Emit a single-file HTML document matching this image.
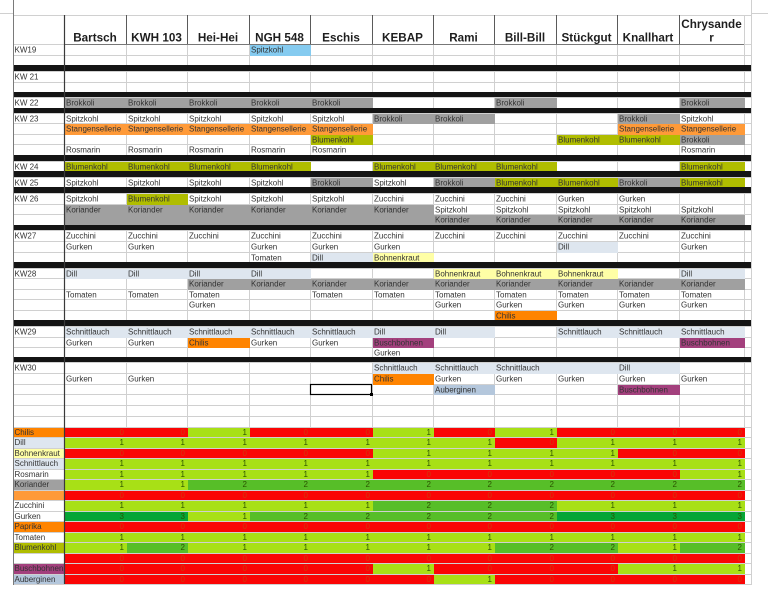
<!DOCTYPE html>
<html><head><meta charset="utf-8">
<style>
html,body{margin:0;padding:0;background:#fff;width:768px;height:599px;overflow:hidden}
svg{display:block}
text{font-family:"Liberation Sans",Arial,sans-serif}
.t{font-size:8px;fill:#333}
.h{font-size:11.7px;font-weight:bold;fill:#1e1e1e;text-anchor:middle}
.r{font-size:8px;fill:#cf3a0c}
.g{font-size:8px;fill:#2c5400}
</style></head>
<body>
<svg width="768" height="599" viewBox="0 0 768 599" xmlns="http://www.w3.org/2000/svg">
<rect x="0" y="0" width="768" height="599" fill="#fff"/>

<!-- light gridlines -->
<path fill="none" stroke="#d0d0d0" stroke-width="1" d="
M0 13.5H13 M751 13.5H768
M13 15.5H751 M13 44.5H751 M13 55.5H751 M13 65.5H751 M13 71.5H751 M13 82.5H751 M13 92.5H751 M13 97.5H751
M13 108.5H751 M13 113.5H751 M13 123.5H751 M13 134.5H751 M13 144.5H751 M13 155.5H751 M13 161.5H751 M13 171.5H751
M13 177.5H751 M13 187.5H751 M13 193.5H751 M13 204.5H751 M13 214.5H751 M13 225.5H751 M13 230.5H751 M13 241.5H751
M13 252.5H751 M13 262.5H751 M13 268.5H751 M13 278.5H751 M13 289.5H751 M13 299.5H751 M13 310.5H751 M13 320.5H751
M13 326.5H751 M13 337.5H751 M13 347.5H751 M13 357.5H751 M13 362.5H751 M13 373.5H751 M13 384.5H751 M13 394.5H751
M13 405.5H751 M13 416.5H751 M13 427.5H751 M13 437.5H751 M13 448.5H751 M13 458.5H751 M13 469.5H751 M13 479.5H751
M13 490.5H751 M13 500.5H751 M13 511.5H751 M13 521.5H751 M13 532.5H751 M13 542.5H751 M13 553.5H751 M13 563.5H751
M13 574.5H751 M13 584.5H751
M126.5 44V584 M187.5 44V584 M249.5 44V584 M310.5 44V584 M372.5 44V584 M433.5 44V584 M494.5 44V584
M556.5 44V584 M617.5 44V584 M679.5 44V584 M744.5 15V584 M751.5 0V585"/>

<!-- header dark verticals -->
<path fill="none" stroke="#5a5a5a" stroke-width="1" d="M126.5 15V44 M187.5 15V44 M249.5 15V44 M310.5 15V44 M372.5 15V44 M433.5 15V44 M494.5 15V44 M556.5 15V44 M617.5 15V44 M679.5 15V44"/>
<path fill="none" stroke="#777" stroke-width="1" d="M64 44.5H744"/>

<!-- coloured cells (top) -->
<g>
<rect x="250" y="45" width="61" height="11" fill="#85cbf0"/>
<rect x="65" y="98" width="308" height="11" fill="#a0a0a0"/>
<rect x="495" y="98" width="62" height="11" fill="#a0a0a0"/>
<rect x="680" y="98" width="65" height="11" fill="#a0a0a0"/>
<rect x="373" y="114" width="122" height="10" fill="#a0a0a0"/>
<rect x="618" y="114" width="62" height="10" fill="#a0a0a0"/>
<rect x="65" y="124" width="308" height="11" fill="#ff9a38"/>
<rect x="618" y="124" width="127" height="11" fill="#ff9a38"/>
<rect x="311" y="135" width="62" height="10" fill="#b0bd00"/>
<rect x="557" y="135" width="123" height="10" fill="#b0bd00"/>
<rect x="680" y="135" width="65" height="10" fill="#a0a0a0"/>
<rect x="65" y="162" width="246" height="10" fill="#b0bd00"/>
<rect x="373" y="162" width="184" height="10" fill="#b0bd00"/>
<rect x="680" y="162" width="65" height="10" fill="#b0bd00"/>
<rect x="311" y="178" width="62" height="10" fill="#a0a0a0"/>
<rect x="434" y="178" width="61" height="10" fill="#a0a0a0"/>
<rect x="495" y="178" width="123" height="10" fill="#b0bd00"/>
<rect x="618" y="178" width="62" height="10" fill="#a0a0a0"/>
<rect x="680" y="178" width="65" height="10" fill="#b0bd00"/>
<rect x="127" y="194" width="61" height="11" fill="#b0bd00"/>
<rect x="65" y="205" width="369" height="21" fill="#a0a0a0"/>
<rect x="434" y="215" width="311" height="11" fill="#a0a0a0"/>
<rect x="557" y="242" width="61" height="11" fill="#dee6ef"/>
<rect x="311" y="253" width="62" height="10" fill="#dee6ef"/>
<rect x="373" y="253" width="61" height="10" fill="#ffffa6"/>
<rect x="65" y="269" width="246" height="10" fill="#dee6ef"/>
<rect x="434" y="269" width="184" height="10" fill="#ffffa6"/>
<rect x="680" y="269" width="65" height="10" fill="#dee6ef"/>
<rect x="188" y="279" width="557" height="11" fill="#a0a0a0"/>
<rect x="495" y="311" width="62" height="10" fill="#ff8400"/>
<rect x="65" y="327" width="430" height="11" fill="#dee6ef"/>
<rect x="557" y="327" width="188" height="11" fill="#dee6ef"/>
<rect x="188" y="338" width="62" height="10" fill="#ff8400"/>
<rect x="373" y="338" width="61" height="10" fill="#a3407d"/>
<rect x="680" y="338" width="65" height="10" fill="#a3407d"/>
<rect x="373" y="363" width="307" height="11" fill="#dee6ef"/>
<rect x="373" y="374" width="61" height="11" fill="#ff8400"/>
<rect x="434" y="385" width="61" height="10" fill="#b4c7dc"/>
<rect x="618" y="385" width="62" height="10" fill="#a3407d"/>
</g>

<!-- black separator bands -->
<g fill="#141414">
<rect x="13" y="65" width="738" height="6"/>
<rect x="13" y="92" width="738" height="5"/>
<rect x="13" y="108" width="738" height="5"/>
<rect x="13" y="155" width="738" height="6"/>
<rect x="13" y="171" width="738" height="6"/>
<rect x="13" y="187" width="738" height="6"/>
<rect x="13" y="225" width="738" height="5"/>
<rect x="13" y="262" width="738" height="6"/>
<rect x="13" y="320" width="738" height="6"/>
<rect x="13" y="357" width="738" height="5"/>
</g>

<!-- lower section label backgrounds -->
<g>
<rect x="14" y="428" width="50" height="9" fill="#ff8400"/>
<rect x="14" y="438" width="50" height="10" fill="#dee6ef"/>
<rect x="14" y="449" width="50" height="9" fill="#ffffa6"/>
<rect x="14" y="459" width="50" height="10" fill="#dee6ef"/>
<rect x="14" y="480" width="50" height="10" fill="#a0a0a0"/>
<rect x="14" y="491" width="50" height="9" fill="#ff9a38"/>
<rect x="14" y="522" width="50" height="10" fill="#ff8400"/>
<rect x="14" y="543" width="50" height="10" fill="#b0bd00"/>
<rect x="14" y="564" width="50" height="10" fill="#a3407d"/>
<rect x="14" y="575" width="50" height="9" fill="#b4c7dc"/>
</g>

<!-- lower section value cells -->
<g>
<!-- row0 Chilis -->
<rect x="65" y="428" width="123" height="9" fill="#fa0505"/>
<rect x="188" y="428" width="62" height="9" fill="#a8e016"/>
<rect x="250" y="428" width="123" height="9" fill="#fa0505"/>
<rect x="373" y="428" width="61" height="9" fill="#a8e016"/>
<rect x="434" y="428" width="61" height="9" fill="#fa0505"/>
<rect x="495" y="428" width="62" height="9" fill="#a8e016"/>
<rect x="557" y="428" width="188" height="9" fill="#fa0505"/>
<!-- row1 Dill -->
<rect x="65" y="438" width="430" height="10" fill="#a8e016"/>
<rect x="495" y="438" width="62" height="10" fill="#fa0505"/>
<rect x="557" y="438" width="188" height="10" fill="#a8e016"/>
<!-- row2 Bohnenkraut -->
<rect x="65" y="449" width="308" height="9" fill="#fa0505"/>
<rect x="373" y="449" width="245" height="9" fill="#a8e016"/>
<rect x="618" y="449" width="127" height="9" fill="#fa0505"/>
<!-- row3 Schnittlauch -->
<rect x="65" y="459" width="680" height="10" fill="#a8e016"/>
<!-- row4 Rosmarin -->
<rect x="65" y="470" width="308" height="9" fill="#a8e016"/>
<rect x="373" y="470" width="307" height="9" fill="#fa0505"/>
<rect x="680" y="470" width="65" height="9" fill="#a8e016"/>
<!-- row5 Koriander -->
<rect x="65" y="480" width="123" height="10" fill="#a8e016"/>
<rect x="188" y="480" width="557" height="10" fill="#57be28"/>
<!-- row6 blank -->
<rect x="65" y="491" width="680" height="9" fill="#fa0505"/>
<!-- row7 Zucchini -->
<rect x="65" y="501" width="308" height="10" fill="#a8e016"/>
<rect x="373" y="501" width="184" height="10" fill="#57be28"/>
<rect x="557" y="501" width="188" height="10" fill="#a8e016"/>
<!-- row8 Gurken -->
<rect x="65" y="512" width="123" height="9" fill="#06a536"/>
<rect x="188" y="512" width="62" height="9" fill="#a8e016"/>
<rect x="250" y="512" width="307" height="9" fill="#57be28"/>
<rect x="557" y="512" width="188" height="9" fill="#06a536"/>
<!-- row9 Paprika -->
<rect x="65" y="522" width="680" height="10" fill="#fa0505"/>
<!-- row10 Tomaten -->
<rect x="65" y="533" width="680" height="9" fill="#a8e016"/>
<!-- row11 Blumenkohl -->
<rect x="65" y="543" width="62" height="10" fill="#a8e016"/>
<rect x="127" y="543" width="61" height="10" fill="#57be28"/>
<rect x="188" y="543" width="307" height="10" fill="#a8e016"/>
<rect x="495" y="543" width="123" height="10" fill="#57be28"/>
<rect x="618" y="543" width="62" height="10" fill="#a8e016"/>
<rect x="680" y="543" width="65" height="10" fill="#57be28"/>
<!-- row12 blank -->
<rect x="65" y="554" width="680" height="9" fill="#fa0505"/>
<!-- row13 Buschbohnen -->
<rect x="65" y="564" width="308" height="10" fill="#fa0505"/>
<rect x="373" y="564" width="61" height="10" fill="#a8e016"/>
<rect x="434" y="564" width="184" height="10" fill="#fa0505"/>
<rect x="618" y="564" width="127" height="10" fill="#a8e016"/>
<!-- row14 Auberginen -->
<rect x="65" y="575" width="369" height="9" fill="#fa0505"/>
<rect x="434" y="575" width="61" height="9" fill="#a8e016"/>
<rect x="495" y="575" width="250" height="9" fill="#fa0505"/>
</g>

<!-- dark borders -->
<path fill="none" stroke="#7a7a7a" stroke-width="1" d="M13.5 0V585"/>
<path fill="none" stroke="#3a3a3a" stroke-width="1.2" d="M64.5 15V584"/>

<!-- selection box -->
<rect x="310.5" y="384.5" width="61" height="10" fill="none" stroke="#000" stroke-width="1.2"/>
<rect x="370" y="393" width="3" height="3" fill="#000"/>

<!-- header -->
<g class="h">
<text x="95" y="41.5">Bartsch</text>
<text x="156.5" y="41.5">KWH 103</text>
<text x="218" y="41.5">Hei-Hei</text>
<text x="279.5" y="41.5">NGH 548</text>
<text x="341" y="41.5">Eschis</text>
<text x="402.5" y="41.5">KEBAP</text>
<text x="463.5" y="41.5">Rami</text>
<text x="525" y="41.5">Bill-Bill</text>
<text x="586.5" y="41.5">Stückgut</text>
<text x="648" y="41.5">Knallhart</text>
<text x="711.5" y="28">Chrysande</text>
<text x="711.5" y="41.5">r</text>
</g>

<!-- week labels -->
<g class="t">
<text x="14.5" y="52.5">KW19</text>
<text x="14.5" y="79.5">KW 21</text>
<text x="14.5" y="105.5">KW 22</text>
<text x="14.5" y="121.5">KW 23</text>
<text x="14.5" y="169.5">KW 24</text>
<text x="14.5" y="185.5">KW 25</text>
<text x="14.5" y="201.5">KW 26</text>
<text x="14.5" y="238.5">KW27</text>
<text x="14.5" y="276.5">KW28</text>
<text x="14.5" y="334.5">KW29</text>
<text x="14.5" y="370.5">KW30</text>

<!-- KW19 -->
<text x="251" y="52.5">Spitzkohl</text>
<!-- KW22 -->
<text x="66" y="105.5">Brokkoli</text><text x="128" y="105.5">Brokkoli</text><text x="189" y="105.5">Brokkoli</text><text x="251" y="105.5">Brokkoli</text><text x="312" y="105.5">Brokkoli</text><text x="496" y="105.5">Brokkoli</text><text x="681" y="105.5">Brokkoli</text>
<!-- KW23 -->
<text x="66" y="121.5">Spitzkohl</text><text x="128" y="121.5">Spitzkohl</text><text x="189" y="121.5">Spitzkohl</text><text x="251" y="121.5">Spitzkohl</text><text x="312" y="121.5">Spitzkohl</text><text x="374" y="121.5">Brokkoli</text><text x="435" y="121.5">Brokkoli</text><text x="619" y="121.5">Brokkoli</text><text x="681" y="121.5">Spitzkohl</text>
<text x="66" y="131.5">Stangensellerie</text><text x="128" y="131.5">Stangensellerie</text><text x="189" y="131.5">Stangensellerie</text><text x="251" y="131.5">Stangensellerie</text><text x="312" y="131.5">Stangensellerie</text><text x="619" y="131.5">Stangensellerie</text><text x="681" y="131.5">Stangensellerie</text>
<text x="312" y="142.5">Blumenkohl</text><text x="558" y="142.5">Blumenkohl</text><text x="619" y="142.5">Blumenkohl</text><text x="681" y="142.5">Brokkoli</text>
<text x="66" y="152.5">Rosmarin</text><text x="128" y="152.5">Rosmarin</text><text x="189" y="152.5">Rosmarin</text><text x="251" y="152.5">Rosmarin</text><text x="312" y="152.5">Rosmarin</text><text x="681" y="152.5">Rosmarin</text>
<!-- KW24 -->
<text x="66" y="169.5">Blumenkohl</text><text x="128" y="169.5">Blumenkohl</text><text x="189" y="169.5">Blumenkohl</text><text x="251" y="169.5">Blumenkohl</text><text x="374" y="169.5">Blumenkohl</text><text x="435" y="169.5">Blumenkohl</text><text x="496" y="169.5">Blumenkohl</text><text x="681" y="169.5">Blumenkohl</text>
<!-- KW25 -->
<text x="66" y="185.5">Spitzkohl</text><text x="128" y="185.5">Spitzkohl</text><text x="189" y="185.5">Spitzkohl</text><text x="251" y="185.5">Spitzkohl</text><text x="312" y="185.5">Brokkoli</text><text x="374" y="185.5">Spitzkohl</text><text x="435" y="185.5">Brokkoli</text><text x="496" y="185.5">Blumenkohl</text><text x="558" y="185.5">Blumenkohl</text><text x="619" y="185.5">Brokkoli</text><text x="681" y="185.5">Blumenkohl</text>
<!-- KW26 -->
<text x="66" y="201.5">Spitzkohl</text><text x="128" y="201.5">Blumenkohl</text><text x="189" y="201.5">Spitzkohl</text><text x="251" y="201.5">Spitzkohl</text><text x="312" y="201.5">Spitzkohl</text><text x="374" y="201.5">Zucchini</text><text x="435" y="201.5">Zucchini</text><text x="496" y="201.5">Zucchini</text><text x="558" y="201.5">Gurken</text><text x="619" y="201.5">Gurken</text>
<text x="66" y="212.5">Koriander</text><text x="128" y="212.5">Koriander</text><text x="189" y="212.5">Koriander</text><text x="251" y="212.5">Koriander</text><text x="312" y="212.5">Koriander</text><text x="374" y="212.5">Koriander</text><text x="435" y="212.5">Spitzkohl</text><text x="496" y="212.5">Spitzkohl</text><text x="558" y="212.5">Spitzkohl</text><text x="619" y="212.5">Spitzkohl</text><text x="681" y="212.5">Spitzkohl</text>
<text x="435" y="222.5">Koriander</text><text x="496" y="222.5">Koriander</text><text x="558" y="222.5">Koriander</text><text x="619" y="222.5">Koriander</text><text x="681" y="222.5">Koriander</text>
<!-- KW27 -->
<text x="66" y="238.5">Zucchini</text><text x="128" y="238.5">Zucchini</text><text x="189" y="238.5">Zucchini</text><text x="251" y="238.5">Zucchini</text><text x="312" y="238.5">Zucchini</text><text x="374" y="238.5">Zucchini</text><text x="435" y="238.5">Zucchini</text><text x="496" y="238.5">Zucchini</text><text x="558" y="238.5">Zucchini</text><text x="619" y="238.5">Zucchini</text><text x="681" y="238.5">Zucchini</text>
<text x="66" y="249.5">Gurken</text><text x="128" y="249.5">Gurken</text><text x="251" y="249.5">Gurken</text><text x="312" y="249.5">Gurken</text><text x="374" y="249.5">Gurken</text><text x="558" y="249.5">Dill</text><text x="681" y="249.5">Gurken</text>
<text x="251" y="260.5">Tomaten</text><text x="312" y="260.5">Dill</text><text x="374" y="260.5">Bohnenkraut</text>
<!-- KW28 -->
<text x="66" y="276.5">Dill</text><text x="128" y="276.5">Dill</text><text x="189" y="276.5">Dill</text><text x="251" y="276.5">Dill</text><text x="435" y="276.5">Bohnenkraut</text><text x="496" y="276.5">Bohnenkraut</text><text x="558" y="276.5">Bohnenkraut</text><text x="681" y="276.5">Dill</text>
<text x="189" y="286.5">Koriander</text><text x="251" y="286.5">Koriander</text><text x="312" y="286.5">Koriander</text><text x="374" y="286.5">Koriander</text><text x="435" y="286.5">Koriander</text><text x="496" y="286.5">Koriander</text><text x="558" y="286.5">Koriander</text><text x="619" y="286.5">Koriander</text><text x="681" y="286.5">Koriander</text>
<text x="66" y="297.5">Tomaten</text><text x="128" y="297.5">Tomaten</text><text x="189" y="297.5">Tomaten</text><text x="312" y="297.5">Tomaten</text><text x="374" y="297.5">Tomaten</text><text x="435" y="297.5">Tomaten</text><text x="496" y="297.5">Tomaten</text><text x="558" y="297.5">Tomaten</text><text x="619" y="297.5">Tomaten</text><text x="681" y="297.5">Tomaten</text>
<text x="189" y="307.5">Gurken</text><text x="435" y="307.5">Gurken</text><text x="496" y="307.5">Gurken</text><text x="558" y="307.5">Gurken</text><text x="619" y="307.5">Gurken</text><text x="681" y="307.5">Gurken</text>
<text x="496" y="318.5">Chilis</text>
<!-- KW29 -->
<text x="66" y="334.5">Schnittlauch</text><text x="128" y="334.5">Schnittlauch</text><text x="189" y="334.5">Schnittlauch</text><text x="251" y="334.5">Schnittlauch</text><text x="312" y="334.5">Schnittlauch</text><text x="374" y="334.5">Dill</text><text x="435" y="334.5">Dill</text><text x="558" y="334.5">Schnittlauch</text><text x="619" y="334.5">Schnittlauch</text><text x="681" y="334.5">Schnittlauch</text>
<text x="66" y="345.5">Gurken</text><text x="128" y="345.5">Gurken</text><text x="189" y="345.5">Chilis</text><text x="251" y="345.5">Gurken</text><text x="312" y="345.5">Gurken</text><text x="374" y="345.5">Buschbohnen</text><text x="681" y="345.5">Buschbohnen</text>
<text x="374" y="355.5">Gurken</text>
<!-- KW30 -->
<text x="374" y="370.5">Schnittlauch</text><text x="435" y="370.5">Schnittlauch</text><text x="496" y="370.5">Schnittlauch</text><text x="619" y="370.5">Dill</text>
<text x="66" y="381.5">Gurken</text><text x="128" y="381.5">Gurken</text><text x="374" y="381.5">Chilis</text><text x="435" y="381.5">Gurken</text><text x="496" y="381.5">Gurken</text><text x="558" y="381.5">Gurken</text><text x="619" y="381.5">Gurken</text><text x="681" y="381.5">Gurken</text>
<text x="435" y="392.5">Auberginen</text><text x="619" y="392.5">Buschbohnen</text>

<!-- lower labels -->
<text x="14.5" y="435">Chilis</text>
<text x="14.5" y="445">Dill</text>
<text x="14.5" y="456">Bohnenkraut</text>
<text x="14.5" y="466">Schnittlauch</text>
<text x="14.5" y="477">Rosmarin</text>
<text x="14.5" y="487">Koriander</text>
<text x="14.5" y="508">Zucchini</text>
<text x="14.5" y="519">Gurken</text>
<text x="14.5" y="529">Paprika</text>
<text x="14.5" y="540">Tomaten</text>
<text x="14.5" y="550">Blumenkohl</text>
<text x="14.5" y="571">Buschbohnen</text>
<text x="14.5" y="582">Auberginen</text>
</g>

<!-- digits -->
<text class="r" x="119.5 180.5 303.5 365.5 487.5 610.5 672.5 737.5" y="435">00000000</text>
<text class="g" x="242.5 426.5 549.5" y="435">111</text>
<text class="r" x="549.5" y="445">0</text>
<text class="g" x="119.5 180.5 242.5 303.5 365.5 426.5 487.5 610.5 672.5 737.5" y="445">1111111111</text>
<text class="r" x="119.5 180.5 242.5 303.5 365.5 672.5 737.5" y="456">0000000</text>
<text class="g" x="426.5 487.5 549.5 610.5" y="456">1111</text>
<text class="g" x="119.5 180.5 242.5 303.5 365.5 426.5 487.5 549.5 610.5 672.5 737.5" y="466">11111111111</text>
<text class="r" x="426.5 487.5 549.5 610.5 672.5" y="477">00000</text>
<text class="g" x="119.5 180.5 242.5 303.5 365.5 737.5" y="477">111111</text>
<text class="g" x="119.5 180.5 242.5 303.5 365.5 426.5 487.5 549.5 610.5 672.5 737.5" y="487">11222222222</text>
<text class="r" x="119.5 180.5 242.5 303.5 365.5 426.5 487.5 549.5 610.5 672.5 737.5" y="498">00000000000</text>
<text class="g" x="119.5 180.5 242.5 303.5 365.5 426.5 487.5 549.5 610.5 672.5 737.5" y="508">11111222111</text>
<text class="g" x="119.5 180.5 242.5 303.5 365.5 426.5 487.5 549.5 610.5 672.5 737.5" y="519">33122222333</text>
<text class="r" x="119.5 180.5 242.5 303.5 365.5 426.5 487.5 549.5 610.5 672.5 737.5" y="529">00000000000</text>
<text class="g" x="119.5 180.5 242.5 303.5 365.5 426.5 487.5 549.5 610.5 672.5 737.5" y="540">11111111111</text>
<text class="g" x="119.5 180.5 242.5 303.5 365.5 426.5 487.5 549.5 610.5 672.5 737.5" y="550">12111112212</text>
<text class="r" x="119.5 180.5 242.5 303.5 365.5 426.5 487.5 549.5 610.5 672.5 737.5" y="561">00000000000</text>
<text class="r" x="119.5 180.5 242.5 303.5 365.5 487.5 549.5 610.5" y="571">00000000</text>
<text class="g" x="426.5 672.5 737.5" y="571">111</text>
<text class="r" x="119.5 180.5 242.5 303.5 365.5 426.5 549.5 610.5 672.5 737.5" y="582">0000000000</text>
<text class="g" x="487.5" y="582">1</text>
</svg>
</body></html>
